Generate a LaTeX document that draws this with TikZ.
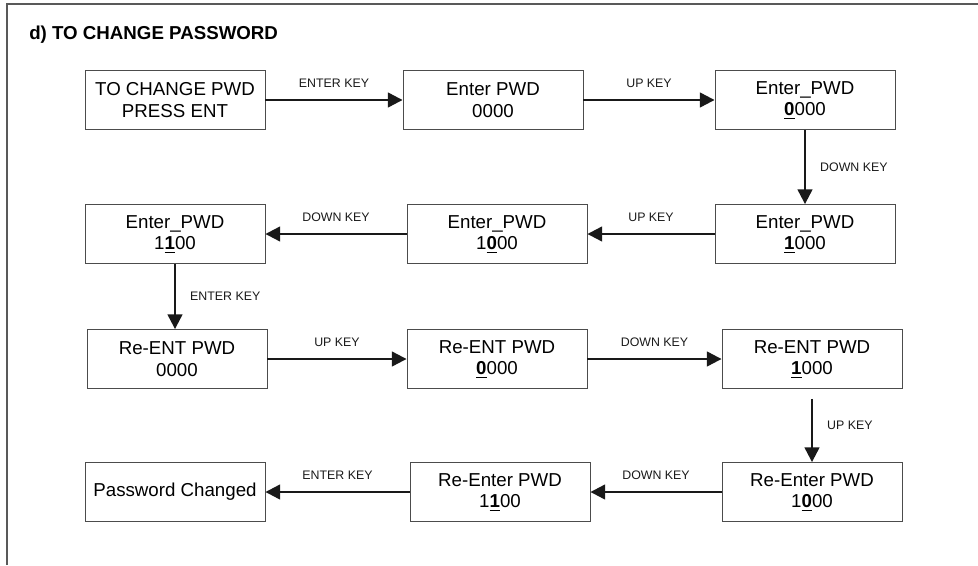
\documentclass[tikz,border=0pt]{standalone}
\usepackage{fontspec}
\setmainfont{Liberation Sans}
\usetikzlibrary{arrows.meta}
\tikzset{
  scr/.style={draw=black!70, line width=0.6pt, minimum width=4.5cm, minimum height=1.475cm,
              inner sep=0pt, align=center, font=\fontsize{13.3}{15.4}\selectfont},
  key/.style={font=\fontsize{8.8}{10}\selectfont, inner sep=0pt},
  go/.style={-{Triangle[length=10.5pt,width=10.5pt]}, line width=1.6pt, black!90}
}
\newcommand{\cur}[1]{\underline{\textbf{#1}}}
\begin{document}
\begin{tikzpicture}[x=0.025cm,y=-0.025cm]
\useasboundingbox (0,0) rectangle (978,565);
\draw[line width=1.4pt, black!65] (7,565) -- (7,4) -- (978,4);
\node(title) at (29,40)[anchor=base west, inner sep=0pt, font=\fontsize{13.3}{15}\selectfont\bfseries] {d) TO CHANGE PASSWORD};
% first row
\node(s1) at (175,100)[scr]  {TO CHANGE PWD\\PRESS ENT};
\node(s2) at (493,100)[scr]  {Enter PWD\\0000};
\node(s3) at (805,100)[scr]  {Enter\_PWD\\\cur{0}000};
% second row
\node(s4) at (805,234)[scr]  {Enter\_PWD\\\cur{1}000};
\node(s5) at (497,234)[scr]  {Enter\_PWD\\1\cur{0}00};
\node(s6) at (175,234)[scr]  {Enter\_PWD\\1\cur{1}00};
% third row
\node(s7) at (177,359)[scr]  {Re-ENT PWD\\0000};
\node(s8) at (497,359)[scr]  {Re-ENT PWD\\\cur{0}000};
\node(s9) at (812,359)[scr]  {Re-ENT PWD\\\cur{1}000};
% last row
\node(s10) at (812,492)[scr] {Re-Enter PWD\\1\cur{0}00};
\node(s11) at (500,492)[scr] {Re-Enter PWD\\1\cur{1}00};
\node(s12) at (175,492)[scr] {Password Changed};

\path [go]
  (s1)  edge  node [key,above=8pt]  {ENTER KEY}  (s2)
  (s2)  edge  node [key,above=8pt]  {UP KEY}     (s3)
  (s3)  edge  node [key,right=10pt] {DOWN KEY}   (s4)

  (s4)  edge  node [key,above=8pt]  {UP KEY}     (s5)
  (s5)  edge  node [key,above=8pt]  {DOWN KEY}   (s6)
  (s6)  edge  node [key,right=10pt] {ENTER KEY}  (s6 |- s7.north)

  (s7)  edge  node [key,above=8pt]  {UP KEY}     (s8)
  (s8)  edge  node [key,above=8pt]  {DOWN KEY}   (s9)
  (s9)  edge [shorten <=7pt] node [key,right=10pt] {UP KEY} (s10)

  (s10) edge  node [key,above=8pt]  {DOWN KEY}   (s11)
  (s11) edge  node [key,above=8pt]  {ENTER KEY}  (s12);
\end{tikzpicture}
\end{document}
